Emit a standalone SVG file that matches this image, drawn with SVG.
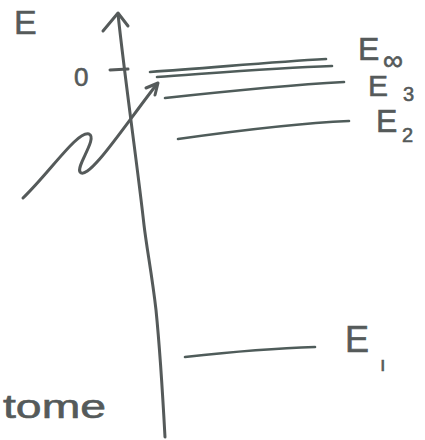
<svg xmlns="http://www.w3.org/2000/svg" width="425" height="440" viewBox="0 0 425 440">
<style>
.ink{fill:none;stroke:#555a5a;stroke-width:3;stroke-linecap:round;stroke-linejoin:round}
.lvl{fill:none;stroke:#4f5c5a;stroke-width:2.6;stroke-linecap:round}
.t{font-family:"Liberation Sans",Arial,sans-serif;fill:#555a5a;stroke:#555a5a;stroke-width:0.6}
</style>
<rect width="425" height="440" fill="#ffffff"/>
<g id="axis">
<path class="ink" d="M165,437 C163,400 160,350 156,310 C152,275 147,250 144,225 C138,170 125,80 118,14"/>
<path class="ink" d="M103,31 L118,13 L128,26"/>
<path class="ink" d="M110,70 L128,69"/>
<text class="t" x="14" y="34" font-size="34">E</text>
<text class="t" x="74" y="86" font-size="26">0</text>
</g>
<g id="levels">
<path class="lvl" d="M150,72 C210,68 270,62 326,59"/>
<path class="lvl" d="M157,77 C215,73 275,68 332,66"/>
<path class="lvl" d="M165,98 C220,92 290,85 344,82"/>
<path class="lvl" d="M178,139 C235,131 300,123 349,121"/>
<path class="lvl" d="M185,357 C230,352 280,348 315,347"/>
</g>
<g id="labels">
<text class="t" x="358" y="60" font-size="32">E</text>
<text class="t" x="383" y="70" font-size="28">∞</text>
<text class="t" x="368" y="96" font-size="30">E</text>
<text class="t" x="403" y="101" font-size="20">3</text>
<text class="t" x="376" y="132" font-size="32">E</text>
<text class="t" x="402" y="142" font-size="20">2</text>
<text class="t" x="345" y="352" font-size="36">E</text>
<text class="t" x="380" y="371" font-size="20">ı</text>
<text class="t" x="3" y="418" font-size="34" textLength="103" lengthAdjust="spacingAndGlyphs">tome</text>
</g>
<g id="connectors">
<path class="ink" d="M23,198 C50,172 78,130 89,134 C98,138 76,166 80,172 C88,182 125,125 157,84"/>
<path class="ink" d="M146,88 L158,83 L155,95"/>
</g>
</svg>
